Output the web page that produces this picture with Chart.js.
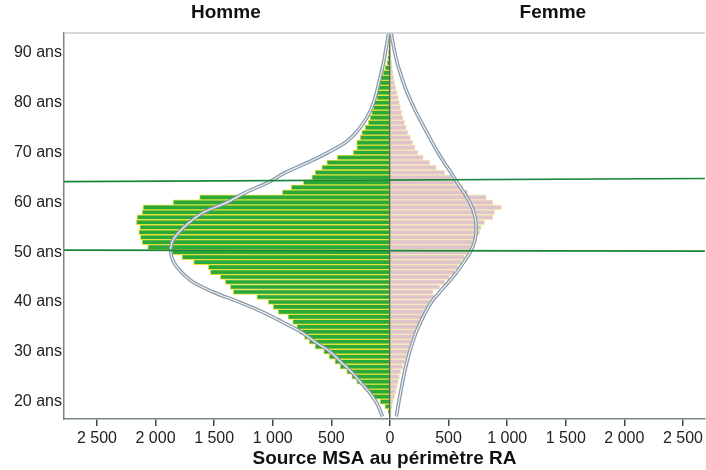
<!DOCTYPE html>
<html>
<head>
<meta charset="utf-8">
<script src="https://cdn.jsdelivr.net/npm/chart.js@4.4.1/dist/chart.umd.min.js"></script>
<style>
  html, body { margin: 0; padding: 0; background: #fff; }
  #wrap { width: 706px; height: 470px; }
</style>
</head>
<body>
<div id="wrap"><canvas id="pyramide"></canvas></div>
<script>
// Une barre par année d'âge
var ages = [18, 19, 20, 21, 22, 23, 24, 25, 26, 27, 28, 29, 30, 31, 32, 33, 34, 35, 36, 37,
            38, 39, 40, 41, 42, 43, 44, 45, 46, 47, 48, 49, 50, 51, 52, 53, 54, 55, 56, 57,
            58, 59, 60, 61, 62, 63, 64, 65, 66, 67, 68, 69, 70, 71, 72, 73, 74, 75, 76, 77,
            78, 79, 80, 81, 82, 83, 84, 85, 86, 87, 88, 89, 90, 91, 92, 93];
var hommes = [15, 43, 85, 142, 185, 227, 284, 326, 369, 426, 470, 520, 565, 640, 690, 730, 770, 795, 830, 870,
              954, 997, 1040, 1136, 1337, 1363, 1405, 1448, 1533, 1550, 1675, 1775, 1860, 2066, 2115, 2129, 2143, 2135, 2164, 2158,
              2115, 2107, 1851, 1624, 920, 843, 740, 667, 639, 582, 539, 450, 315, 284, 284, 255, 241, 213, 185, 170,
              156, 142, 142, 113, 113, 105, 94, 79, 60, 43, 26, 18, 12, 8, 5, 3];
var femmes = [12, 20, 28, 40, 51, 62, 72, 82, 92, 110, 130, 147, 164, 177, 190, 212, 233, 254, 275, 290,
              306, 333, 360, 380, 369, 426, 468, 511, 554, 582, 610, 639, 667, 695, 710, 738, 766, 780, 809, 880,
              894, 951, 880, 823, 667, 624, 568, 525, 468, 397, 340, 284, 240, 215, 195, 175, 155, 140, 125, 112,
              100, 90, 82, 72, 62, 52, 42, 34, 27, 20, 14, 10, 7, 5, 3, 2];

// Courbes de Gauss superposées
var courbeAges = [17, 18, 20, 22, 24, 26, 28, 30, 32, 34, 36, 38, 40, 42, 44, 46, 48, 50, 52, 54,
                  56, 58, 60, 62, 64, 66, 68, 70, 72, 74, 76, 78, 80, 82, 84, 86, 88, 90, 92, 94];
var courbeHommes = [65, 80, 120, 180, 255, 330, 420, 510, 640, 760, 920, 1090, 1290, 1510, 1680, 1780, 1845, 1870, 1860, 1800,
                    1710, 1590, 1390, 1230, 1040, 890, 700, 530, 380, 290, 225, 175, 140, 115, 95, 75, 55, 40, 25, 12];
var courbeFemmes = [55, 62, 76, 92, 108, 125, 145, 168, 195, 225, 262, 305, 355, 425, 500, 570, 630, 685, 720, 735,
                    733, 715, 680, 630, 573, 520, 462, 410, 362, 315, 270, 225, 185, 148, 115, 88, 62, 42, 25, 10];

// Droites repères (âge au bord gauche / au bord droit)
var repereGauche = [64.15, 50.4];
var repereDroite = [64.8, 50.2];

var graduationsX = [-2500, -2000, -1500, -1000, -500, 0, 500, 1000, 1500, 2000, 2500];
var graduationsY = [20, 30, 40, 50, 60, 70, 80, 90];
var entetes = ['Homme', 'Femme'];

var xMin = -2781, xMax = 2687;
var police = 'Liberation Sans';

function points(ys, vals, signe) {
    return ys.map(function (a, i) { return { x: signe * vals[i], y: a }; });
}

function milliers(v) {
    v = Math.abs(v);
    if (v < 1000) return String(v);
    var r = String(v % 1000);
    while (r.length < 3) r = '0' + r;
    return Math.floor(v / 1000) + ' ' + r;
}

var repereDatasets = repereGauche.map(function (a, i) {
    return {
        type: 'line',
        data: [{ x: xMin, y: a }, { x: xMax, y: repereDroite[i] }],
        borderColor: '#16843a',
        borderWidth: 1.6,
        pointRadius: 0,
        order: 0
    };
});

function courbe(vals, signe, couleur, largeur, ordre) {
    return {
        type: 'line',
        data: points(courbeAges, vals, signe),
        borderColor: couleur,
        borderWidth: largeur,
        pointRadius: 0,
        cubicInterpolationMode: 'monotone',
        order: ordre
    };
}

var decor = {
    id: 'decor',
    afterDraw: function (chart) {
        var c = chart.ctx, a = chart.chartArea, x = chart.scales.x;
        c.save();
        c.strokeStyle = '#c4cdd2';
        c.lineWidth = 1.5;
        c.beginPath();
        c.moveTo(a.left, a.top);
        c.lineTo(a.right, a.top);
        c.stroke();
        c.fillStyle = '#111';
        c.font = 'bold 19px "' + police + '"';
        c.textAlign = 'center';
        c.textBaseline = 'middle';
        c.fillText(entetes[0], x.getPixelForValue(-1400), 13);
        c.fillText(entetes[1], x.getPixelForValue(1390), 13);
        c.restore();
    }
};

var ctx = document.getElementById('pyramide').getContext('2d');
var pyramide = new Chart(ctx, {
    type: 'bar',
    data: {
        datasets: [
            {
                type: 'bar',
                label: entetes[0],
                data: points(ages, hommes, -1),
                backgroundColor: '#2aa83a',
                borderColor: '#e2e43c',
                borderWidth: 1,
                grouped: false,
                barPercentage: 1,
                categoryPercentage: 1,
                order: 5
            },
            {
                type: 'bar',
                label: entetes[1],
                data: points(ages, femmes, 1),
                backgroundColor: '#e0c3cb',
                borderColor: '#f4ecb8',
                borderWidth: 1,
                grouped: false,
                barPercentage: 1,
                categoryPercentage: 1,
                order: 5
            },
            courbe(courbeHommes, -1, '#8797a6', 3.6, 3),
            courbe(courbeHommes, -1, '#eef2f4', 1.2, 2),
            courbe(courbeFemmes, 1, '#8797a6', 3.6, 3),
            courbe(courbeFemmes, 1, '#eef2f4', 1.2, 2)
        ].concat(repereDatasets)
    },
    options: {
        indexAxis: 'y',
        responsive: true,
        maintainAspectRatio: false,
        animation: false,
        layout: { padding: { top: 33, left: 0, right: 0, bottom: 0 } },
        plugins: {
            legend: { display: false },
            tooltip: { enabled: false }
        },
        scales: {
            x: {
                type: 'linear',
                min: xMin,
                max: xMax,
                z: 1,
                afterBuildTicks: function (s) {
                    s.ticks = graduationsX.map(function (v) { return { value: v }; });
                },
                afterFit: function (s) { s.height = 51; },
                grid: {
                    color: function (c) { return c.tick && c.tick.value === 0 ? '#55604c' : 'rgba(0,0,0,0)'; },
                    lineWidth: 1.5,
                    tickColor: '#444',
                    tickLength: 7
                },
                border: { color: '#76868a', width: 1.5 },
                ticks: {
                    color: '#222',
                    font: { family: police, size: 16 },
                    padding: 3,
                    maxRotation: 0,
                    autoSkip: false,
                    callback: function (v) { return milliers(v); }
                },
                title: {
                    display: true,
                    text: 'Source MSA au périmètre RA',
                    color: '#111',
                    font: { family: police, size: 19, weight: 'bold' },
                    padding: { top: 0, bottom: 0 }
                }
            },
            y: {
                type: 'linear',
                min: 16.5,
                max: 94,
                offset: false,
                afterBuildTicks: function (s) {
                    s.ticks = graduationsY.map(function (v) { return { value: v }; });
                },
                afterFit: function (s) { s.width = 64; },
                grid: { display: false, drawTicks: false, offset: false },
                border: { color: '#76868a', width: 1.5 },
                ticks: {
                    color: '#222',
                    font: { family: police, size: 16 },
                    padding: 2,
                    callback: function (v) { return v + ' ans'; }
                }
            }
        }
    },
    plugins: [decor]
});
</script>
</body>
</html>
